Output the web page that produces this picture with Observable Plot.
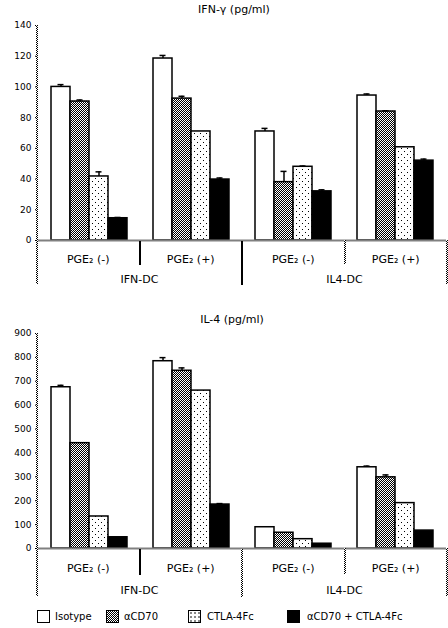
<!DOCTYPE html>
<html><head><meta charset="utf-8">
<script src="https://cdn.jsdelivr.net/npm/d3@7"></script>
<script src="https://cdn.jsdelivr.net/npm/@observablehq/plot@0.6"></script>
<style>
body{margin:0;background:#fff;font-family:"DejaVu Sans",sans-serif;color:#000}
#root{position:relative;width:448px;height:628px;overflow:hidden;background:#fff}
.abs{position:absolute}
.title{font-size:11px;line-height:14px;text-align:center;white-space:nowrap}
.cell{position:absolute;font-size:11px;line-height:13px;text-align:center;white-space:nowrap}
.vdot{position:absolute;width:2px;background:repeating-conic-gradient(#000 0 25%,#fff 0 50%) 0 0/2px 2px}
.vsolid{position:absolute;width:2px;background:#000}
.sw{position:absolute;width:11px;height:11px;border:1.5px solid #000}
.lt{position:absolute;font-size:10px;line-height:13px;white-space:nowrap}
</style></head><body>
<svg width="0" height="0" style="position:absolute"><defs>
<pattern id="pCheck" width="2" height="2" patternUnits="userSpaceOnUse"><rect width="2" height="2" fill="#fff"/><rect x="0" y="0" width="1" height="1" fill="#000"/><rect x="1" y="1" width="1" height="1" fill="#000"/></pattern>
<pattern id="pDots" width="6" height="6" patternUnits="userSpaceOnUse"><rect width="6" height="6" fill="#fff"/><rect x="1" y="1" width="1" height="1" fill="#000"/><rect x="4" y="4" width="1" height="1" fill="#000"/></pattern>
</defs></svg>
<div id="root"></div>
<script>
// ---- data ----
const groupKeys = ["IFN-DC PGE2(-)", "IFN-DC PGE2(+)", "IL4-DC PGE2(-)", "IL4-DC PGE2(+)"];
const pgeLabels = ["PGE\u2082 (-)", "PGE\u2082 (+)", "PGE\u2082 (-)", "PGE\u2082 (+)"];
const dcLabels = ["IFN-DC", "IL4-DC"];
const series = ["Isotype", "\u03b1CD70", "CTLA-4Fc", "\u03b1CD70 + CTLA-4Fc"];
const ifnValues = [[100, 90.5, 41.7, 14.5], [118.5, 92.4, 71, 39.7], [71, 38, 48, 32], [94.4, 84, 60.7, 52]];
const ifnErrors = [[1.5, 1, 3, 0.5], [2, 1.5, 0, 1], [2, 7, 0.5, 1], [1, 0.5, 0, 1]];
const il4Values = [[675, 441, 134, 47], [784, 744, 661, 184], [89, 66, 39, 20], [340, 298, 190, 75]];
const il4Errors = [[8, 0, 0, 0], [15, 12, 0, 4], [0, 0, 0, 0], [5, 10, 0, 0]];
const ifnTicks = [0, 20, 40, 60, 80, 100, 120, 140];
const il4Ticks = [0, 100, 200, 300, 400, 500, 600, 700, 800, 900];
const ifnTitle = "IFN-\u03b3 (pg/ml)";
const il4Title = "IL-4 (pg/ml)";

// ---- styles ----
const seriesFill = ["#fff", "url(#pCheck)", "url(#pDots)", "#000"];
const root = document.getElementById("root");

function rowsOf(values, errors) {
  const rows = [];
  groupKeys.forEach((g, gi) => series.forEach((s, si) => rows.push({group: g, series: s, value: values[gi][si], err: errors[gi][si]})));
  return rows;
}

function chart(values, errors, ticks, yMax, height, marginTop) {
  const rows = rowsOf(values, errors);
  const errRows = rows.filter(d => d.err > 0);
  return Plot.plot({
    width: 448, height, marginLeft: 37, marginRight: 1, marginTop, marginBottom: 8,
    style: {fontFamily: "DejaVu Sans, sans-serif", fontSize: "9px", color: "#000", background: "transparent"},
    fx: {domain: groupKeys, padding: 0, axis: null},
    x: {domain: series, paddingInner: 0, paddingOuter: 0.66, axis: null},
    y: {domain: [0, yMax], ticks, tickSize: 3, tickPadding: 4, label: null},
    marks: [
      ...series.map((s, si) => Plot.barY(rows.filter(d => d.series === s), {fx: "group", x: "series", y: "value", fill: seriesFill[si], stroke: "#000", strokeWidth: 1.5})),
      Plot.ruleX(errRows, {fx: "group", x: "series", y1: "value", y2: d => d.value + d.err, stroke: "#000", strokeWidth: 1.5}),
      Plot.tickY(errRows, {fx: "group", x: "series", y: d => d.value + d.err, insetLeft: 6.5, insetRight: 6.5, stroke: "#000", strokeWidth: 1.5}),
      Plot.ruleY([0], {stroke: "url(#pCheck)", strokeWidth: 2})
    ]
  });
}

function place(el, top, left) { el.style.position = "absolute"; el.style.top = top + "px"; el.style.left = (left || 0) + "px"; root.appendChild(el); return el; }
function div(cls, css, text) { const d = document.createElement("div"); d.className = cls; Object.assign(d.style, css); if (text != null) d.textContent = text; root.appendChild(d); return d; }

function table(top, h1, h2, axisTop, solidMid, textOff) {
  const left = 37, w = 410, gw = w / 4;
  // y axis line + left border
  div("vdot", {left: "36px", top: axisTop + "px", height: (top + h1 + h2 - axisTop) + "px"});
  div("vdot", {left: "446px", top: top + "px", height: (h1 + h2) + "px"});
  div("vsolid", {left: (left + gw - 1) + "px", top: top + 1 + "px", height: h1 + "px"});
  div(solidMid ? "vsolid" : "vdot", {left: (left + 2 * gw - 1) + "px", top: top + 1 + "px", height: (h1 + h2) + "px"});
  div("vdot", {left: (left + 3 * gw - 1) + "px", top: top + "px", height: h1 + "px"});
  pgeLabels.forEach((t, i) => div("cell", {left: (left + i * gw) + "px", width: gw + "px", top: (top + h1 - textOff) + "px"}, t));
  dcLabels.forEach((t, i) => div("cell", {left: (left + i * 2 * gw) + "px", width: (2 * gw) + "px", top: (top + h1 + h2 - textOff) + "px"}, t));
}

// top chart (y=0 at 240, y=140 at 25)
place(chart(ifnValues, ifnErrors, ifnTicks, 140, 248, 25), 0, 0);
div("title abs", {left: "0px", width: "468px", top: "3px"}, ifnTitle);
table(240, 24, 20, 25, true, 11);

// bottom chart (y=0 at 548, y=900 at 333)
place(chart(il4Values, il4Errors, il4Ticks, 900, 236, 13), 320, 0);
div("title abs", {left: "0px", width: "464px", top: "313px"}, il4Title);
table(548, 26, 22, 333, false, 12);

// legend
const swLeft = [37, 106, 188, 287];
const txLeft = [55, 124, 207, 307];
series.forEach((s, i) => {
  div("sw", {left: swLeft[i] + "px", top: "610px", background: seriesFill[i] === "url(#pCheck)" ? "repeating-conic-gradient(#000 0 25%,#fff 0 50%) 0 0/2px 2px" : seriesFill[i] === "url(#pDots)" ? "radial-gradient(#000 0.6px, transparent 0.8px) 0 0/4px 4px, #fff" : seriesFill[i]});
  div("lt", {left: txLeft[i] + "px", top: "610px"}, s);
});
</script>
</body></html>
